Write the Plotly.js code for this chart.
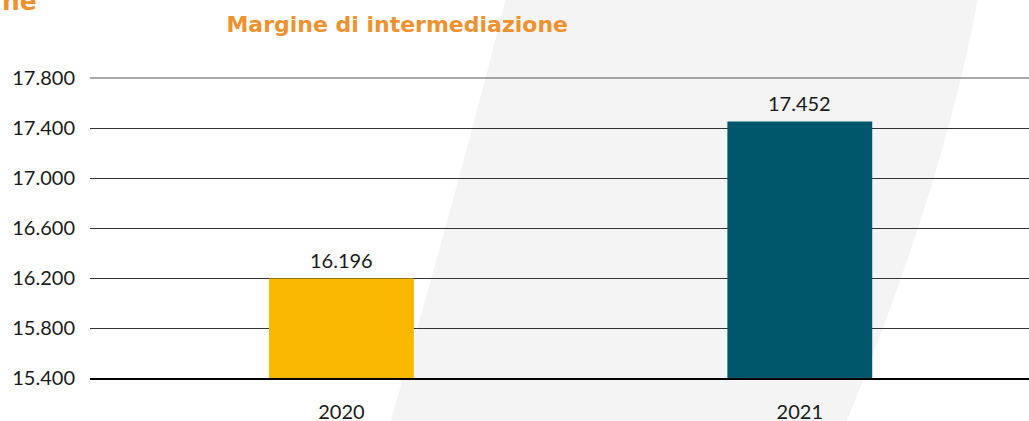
<!DOCTYPE html>
<html>
<head>
<meta charset="utf-8">
<script src="https://cdn.plot.ly/plotly-3.0.1.min.js"></script>
<style>
  html, body { margin: 0; padding: 0; background: #ffffff; }
  #wrap { position: relative; width: 1029px; height: 421px; overflow: hidden; }
  #bg { position: absolute; left: 0; top: 0; }
  #chart { position: absolute; left: 0; top: 0; width: 1029px; height: 421px; }
</style>
</head>
<body>
<div id="wrap">
  <svg id="bg" width="1029" height="421" viewBox="0 0 1029 421">
    <path d="M 506 -2 Q 455 200 390 423 L 846 423 Q 945 180 978 -2 Z" fill="#f4f4f4"/>
  </svg>
  <div id="chart"></div>
</div>
<script>
const categories = ['2020', '2021'];
const values = [16196, 17452];
const valueLabels = ['16.196', '17.452'];
const barColors = ['#FBB800', '#00576B'];
const tickValues = [15400, 15800, 16200, 16600, 17000, 17400, 17800];
const tickLabels = ['15.400', '15.800', '16.200', '16.600', '17.000', '17.400', '17.800'];
const chartTitle = 'Margine di intermediazione';

const FONT = 'Lato, "Open Sans", sans-serif';
const HEAD = '"DejaVu Sans", sans-serif';

const trace = {
  type: 'bar',
  x: categories,
  y: values,
  width: 0.316,
  marker: { color: barColors, line: { width: 0 } },
  hoverinfo: 'skip'
};

const annotations = categories.map((c, i) => ({
  x: i, y: values[i], xref: 'x', yref: 'y',
  text: valueLabels[i], showarrow: false,
  yanchor: 'bottom', yshift: 5,
  font: { family: FONT, size: 20, color: '#1a1a1a' }
}));
annotations.push({
  xref: 'paper', yref: 'paper', x: -0.0958, y: 1.252,
  xanchor: 'left', yanchor: 'middle', showarrow: false,
  text: '<b>ne</b>', font: { family: HEAD, size: 25, color: '#EE922F' }
});

const topTick = tickValues[tickValues.length - 1];

const layout = {
  width: 1029, height: 421,
  margin: { l: 90, r: 0, t: 77, b: 43, pad: 0 },
  paper_bgcolor: 'rgba(0,0,0,0)',
  plot_bgcolor: 'rgba(0,0,0,0)',
  showlegend: false,
  title: {
    text: '<b>' + chartTitle + '</b>',
    x: 0.386, xref: 'container', xanchor: 'center',
    y: 0.943, yref: 'container', yanchor: 'middle',
    font: { family: HEAD, size: 22, color: '#EE922F' }
  },
  xaxis: {
    type: 'category',
    range: [-0.5485, 1.5],
    showgrid: false, zeroline: false,
    showline: true, linecolor: '#000000', linewidth: 2,
    ticks: '', ticklabelstandoff: 15,
    tickfont: { family: FONT, size: 20, color: '#1a1a1a' },
    fixedrange: true
  },
  yaxis: {
    range: [15400, 17808],
    tickvals: tickValues, ticktext: tickLabels,
    showgrid: true, gridcolor: '#333333', gridwidth: 1,
    zeroline: false, showline: false,
    ticks: '', ticklabelstandoff: 14,
    tickfont: { family: FONT, size: 20, color: '#1a1a1a' },
    fixedrange: true
  },
  shapes: [{
    type: 'line', layer: 'below',
    xref: 'paper', x0: 0, x1: 1,
    yref: 'y', y0: topTick, y1: topTick,
    line: { color: '#555555', width: 1 }
  }],
  annotations: annotations
};

Plotly.newPlot('chart', [trace], layout, { displayModeBar: false, staticPlot: true });
</script>
</body>
</html>
